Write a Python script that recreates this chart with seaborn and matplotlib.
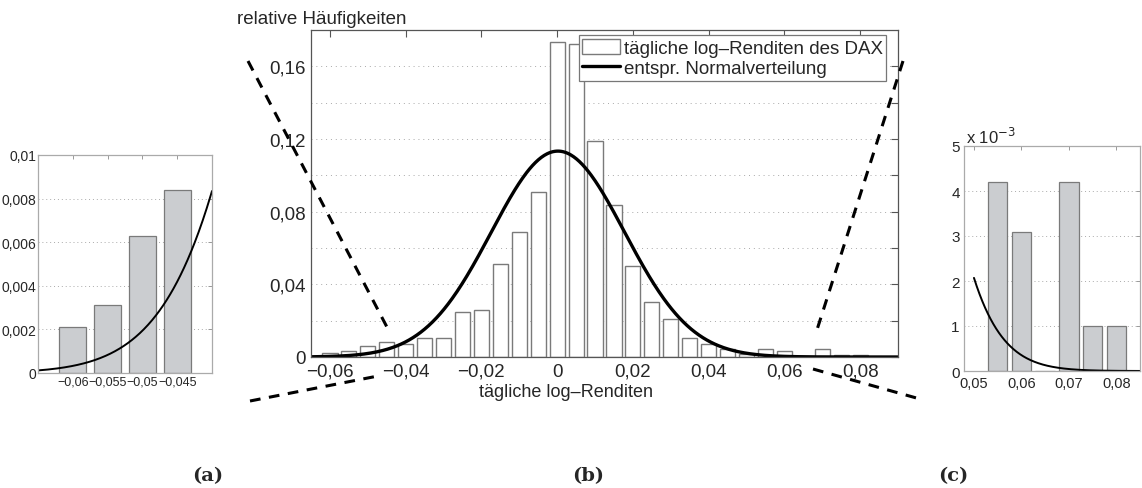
import numpy as np
import pandas as pd
import seaborn as sns
import matplotlib
matplotlib.use("Agg")
import matplotlib.pyplot as plt
from matplotlib.patches import Patch
from matplotlib.lines import Line2D
from matplotlib.ticker import FixedLocator, FuncFormatter

# ---------------- data ----------------
bin_centers = [-0.060, -0.055, -0.050, -0.045, -0.040, -0.035, -0.030, -0.025, -0.020,
               -0.015, -0.010, -0.005, 0.000, 0.005, 0.010, 0.015, 0.020, 0.025,
               0.030, 0.035, 0.040, 0.045, 0.050, 0.055, 0.060, 0.065, 0.070,
               0.075, 0.080]
rel_freq = [0.0021, 0.0031, 0.0063, 0.0084, 0.0073, 0.0104, 0.0104, 0.0250, 0.0261,
            0.0511, 0.0689, 0.0909, 0.1732, 0.1722, 0.1190, 0.0835, 0.0501, 0.0303,
            0.0209, 0.0104, 0.0073, 0.0042, 0.0019, 0.0042, 0.0031, 0.0000, 0.0042,
            0.0010, 0.0010]
bin_width = 0.005
norm_mu = 0.0002
norm_sigma = 0.0176

main_xticks = [-0.06, -0.04, -0.02, 0.0, 0.02, 0.04, 0.06, 0.08]
main_yticks = [0.0, 0.04, 0.08, 0.12, 0.16]
main_ygrid = [0.02, 0.06, 0.10, 0.14]
a_xticks = [-0.06, -0.055, -0.05, -0.045]
a_yticks = [0.0, 0.002, 0.004, 0.006, 0.008, 0.01]
c_xticks = [0.05, 0.06, 0.07, 0.08]
c_yticks = [0.0, 0.001, 0.002, 0.003, 0.004, 0.005]

legend_labels = ["tägliche log–Renditen des DAX", "entspr. Normalverteilung"]
xlabel_text = "tägliche log–Renditen"
ylabel_text = "relative Häufigkeiten"
panel_labels = ["(a)", "(b)", "(c)"]

df = pd.DataFrame({"x": bin_centers, "f": rel_freq})


def normal_curve(x):
    return bin_width * np.exp(-(x - norm_mu) ** 2 / (2 * norm_sigma ** 2)) / (norm_sigma * np.sqrt(2 * np.pi))


def de_fmt(v, pos=None):
    s = f"{v:.4g}"
    if abs(v) < 1e-12:
        s = "0"
    return s.replace(".", ",").replace("-", "\u2212")


# ---------------- style ----------------
sns.set_style("white")
plt.rcParams["font.family"] = ["Liberation Sans", "DejaVu Sans"]
plt.rcParams["axes.unicode_minus"] = True

W, H = 1142, 489
fig = plt.figure(figsize=(W / 100, H / 100), dpi=100)


def px_axes(l, t, r, b):
    return fig.add_axes([l / W, 1 - b / H, (r - l) / W, (b - t) / H])


# ---------------- main histogram (b) ----------------
ax = px_axes(311, 31, 898, 358)
edge = bin_width / 2
sns.histplot(data=df, x="x", weights="f", binwidth=bin_width,
             binrange=(bin_centers[0] - edge, bin_centers[-1] + edge),
             shrink=0.8, stat="count", color="white", edgecolor="#7a7a7a",
             linewidth=1.0, alpha=1.0, ax=ax)
xs = np.linspace(-0.065, 0.09, 600)
sns.lineplot(x=xs, y=normal_curve(xs), color="black", linewidth=2.4, ax=ax)
ax.set_xlim(-0.065, 0.09)
ax.set_ylim(0, 0.18)
ax.xaxis.set_major_locator(FixedLocator(main_xticks))
ax.yaxis.set_major_locator(FixedLocator(main_yticks))
ax.yaxis.set_minor_locator(FixedLocator(main_ygrid))
ax.xaxis.set_major_formatter(FuncFormatter(de_fmt))
ax.yaxis.set_major_formatter(FuncFormatter(de_fmt))
ax.tick_params(which="both", direction="in", top=True, right=True, length=5,
               width=0.8, color="#555555", labelsize=13.5, pad=4)
ax.grid(True, which="both", axis="y", linestyle=(0, (1, 4)), color="#a8a8a8", linewidth=0.7)
ax.set_axisbelow(True)
for s in ax.spines.values():
    s.set_color("#555555")
    s.set_linewidth(0.9)
ax.set_ylabel("")
ax.set_xlabel(xlabel_text, fontsize=13)
ax.xaxis.set_label_coords(0.434, -0.104)
ax.xaxis.label.set_va("center")
handles = [Patch(facecolor="white", edgecolor="#7a7a7a", linewidth=1.0),
           Line2D([0], [0], color="black", linewidth=2.4)]
leg = ax.legend(handles, legend_labels, loc="upper right", bbox_to_anchor=(0.98, 0.985),
                borderaxespad=0, fontsize=13.5, frameon=True, fancybox=False, framealpha=1,
                edgecolor="#777777", handlelength=2.0, handleheight=0.9, handletextpad=0.2,
                borderpad=0.2, labelspacing=0.1)
leg.get_frame().set_linewidth(0.9)
fig.text(237 / W, 1 - 19 / H, ylabel_text, fontsize=13.5, ha="left", va="center")

# ---------------- inset (a) ----------------
axa = px_axes(38, 156, 212, 374)
mask_a = (df["x"] >= -0.0605) & (df["x"] <= -0.0445)
sns.barplot(x=df.loc[mask_a, "x"], y=df.loc[mask_a, "f"], native_scale=True,
            width=0.78, color="#cbcdd0", edgecolor="#7a7a7a", linewidth=0.9,
            saturation=1, ax=axa)
xa = np.linspace(-0.065, -0.04, 300)
sns.lineplot(x=xa, y=normal_curve(xa), color="black", linewidth=1.4, ax=axa)
axa.set_xlim(-0.065, -0.04)
axa.set_ylim(0, 0.01)
axa.xaxis.set_major_locator(FixedLocator(a_xticks))
axa.yaxis.set_major_locator(FixedLocator(a_yticks))
axa.xaxis.set_major_formatter(FuncFormatter(de_fmt))
axa.yaxis.set_major_formatter(FuncFormatter(de_fmt))

# ---------------- inset (c) ----------------
axc = px_axes(964, 147, 1140, 372)
mask_c = df["x"] >= 0.0525
sns.barplot(x=df.loc[mask_c, "x"], y=df.loc[mask_c, "f"], native_scale=True,
            width=0.82, color="#cbcdd0", edgecolor="#7a7a7a", linewidth=0.9,
            saturation=1, ax=axc)
xc = np.linspace(0.05, 0.085, 300)
sns.lineplot(x=xc, y=normal_curve(xc), color="black", linewidth=1.4, ax=axc)
axc.set_xlim(0.0479, 0.085)
axc.set_ylim(0, 0.005)
axc.xaxis.set_major_locator(FixedLocator(c_xticks))
axc.yaxis.set_major_locator(FixedLocator(c_yticks))
axc.xaxis.set_major_formatter(FuncFormatter(de_fmt))
axc.yaxis.set_major_formatter(FuncFormatter(lambda v, p: f"{v * 1000:g}"))
axc.text(0.01, 1.0, r"x 10$^{-3}$", transform=axc.transAxes, fontsize=12,
         ha="left", va="bottom")

for a in (axa, axc):
    a.set_xlabel("")
    a.set_ylabel("")
    a.tick_params(which="both", direction="in", top=True, right=True, length=3,
                  width=0.7, color="#999999", pad=1.5)
    a.grid(True, axis="y", linestyle=(0, (1, 3)), color="#aaaaaa", linewidth=0.7)
    a.set_axisbelow(True)
    for s in a.spines.values():
        s.set_color("#aaaaaa")
        s.set_linewidth(0.9)
axa.tick_params(axis="y", labelsize=10)
axa.tick_params(axis="x", labelsize=9, pad=2)
axc.tick_params(axis="y", labelsize=11, pad=3)
axc.tick_params(axis="x", labelsize=10.5, pad=3.5)

# ---------------- dashed connectors ----------------
connectors = [((248, 62), (389, 332)), ((250, 402), (378, 377)),
              ((903, 62), (815, 337)), ((813, 370), (920, 400))]
for (x0, y0), (x1, y1) in connectors:
    fig.add_artist(Line2D([x0 / W, x1 / W], [1 - y0 / H, 1 - y1 / H],
                          transform=fig.transFigure, color="black", linewidth=2.2,
                          linestyle=(0, (3.5, 2.8))))

# ---------------- panel labels ----------------
for lab, xp in zip(panel_labels, [208, 588, 953]):
    fig.text(xp / W, 1 - 476 / H, lab, fontsize=14, fontweight="bold",
             family=["DejaVu Serif"], ha="center", va="center")

fig.savefig("out.png", dpi=100)
